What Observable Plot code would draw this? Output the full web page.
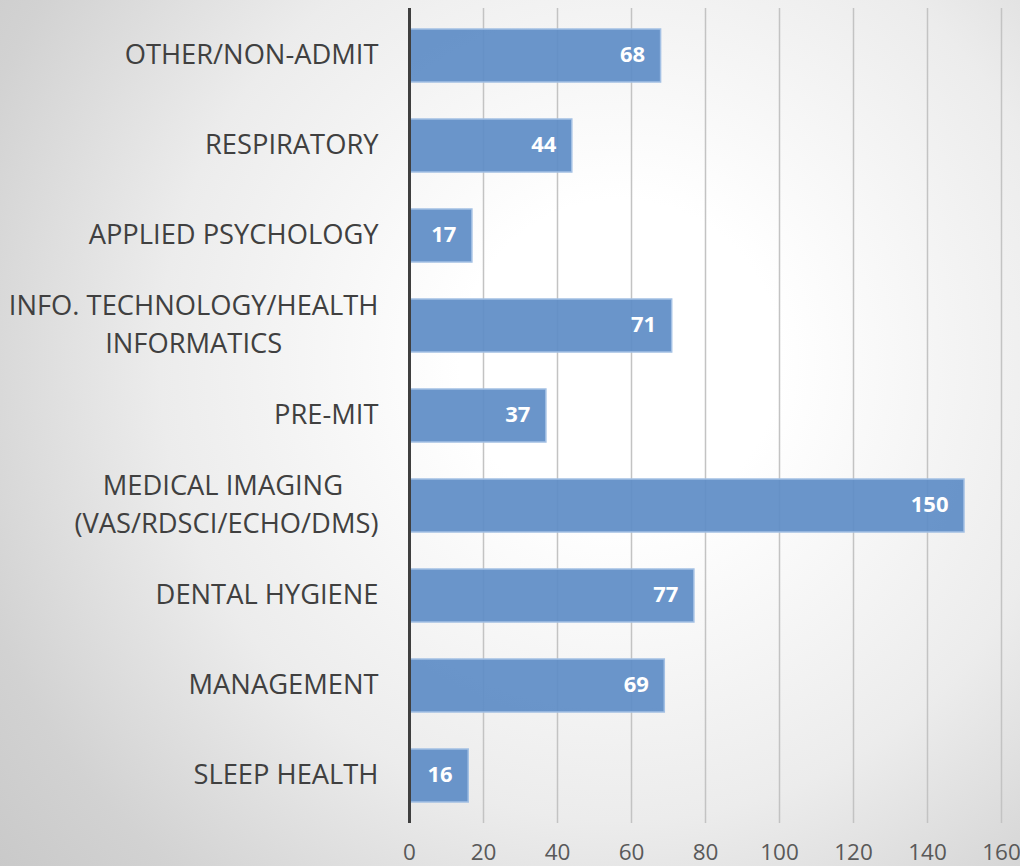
<!DOCTYPE html>
<html>
<head>
<meta charset="utf-8">
<script src="https://cdn.jsdelivr.net/npm/d3@7"></script>
<script src="https://cdn.jsdelivr.net/npm/@observablehq/plot@0.6"></script>
<style>
  html, body { margin: 0; padding: 0; }
  #chart {
    width: 1020px; height: 866px; overflow: hidden;
    background: radial-gradient(circle at 620px 360px, #ffffff 0px, #ffffff 160px, #ececec 460px, #d2d2d2 680px, #c2c2c2 900px);
  }
  #chart svg { background: transparent; display: block; }
</style>
</head>
<body>
<div id="chart"></div>
<script>
const categories = [
  "OTHER/NON-ADMIT",
  "RESPIRATORY",
  "APPLIED PSYCHOLOGY",
  "INFO. TECHNOLOGY/HEALTH\nINFORMATICS",
  "PRE-MIT",
  "MEDICAL IMAGING \n(VAS/RDSCI/ECHO/DMS)",
  "DENTAL HYGIENE",
  "MANAGEMENT",
  "SLEEP HEALTH"
];
const values = [68, 44, 17, 71, 37, 150, 77, 69, 16];
const xTicks = [0, 20, 40, 60, 80, 100, 120, 140, 160];

const data = categories.map((c, i) => ({category: c, value: values[i]}));

const chart = Plot.plot({
  width: 1020,
  height: 866,
  marginLeft: 409,
  marginRight: 19,
  marginTop: 8,
  marginBottom: 43,
  style: {background: "transparent", fontFamily: "Open Sans"},
  x: {domain: [0, 160], ticks: xTicks, label: null},
  y: {domain: categories, paddingInner: 0.415, paddingOuter: 0.2075, axis: null, label: null},
  marks: [
    Plot.ruleX(xTicks.filter(d => d > 0), {stroke: "#c3c3c3", strokeWidth: 1.5}),
    Plot.barX(data, {x: "value", y: "category", fill: "#5f8dc6", fillOpacity: 0.93, stroke: "#a3c0e4", strokeWidth: 1.5}),
    Plot.ruleX([0], {stroke: "#3f3f3f", strokeWidth: 3}),
    Plot.axisX({ticks: xTicks, tickSize: 0, tickPadding: 21, fontSize: 22.5, color: "#595959", label: null, tickFormat: d => String(d)}),
    Plot.text(data, {x: 0, y: "category", text: "category", dx: -31, dy: -4, textAnchor: "end", lineAnchor: "middle", lineHeight: 1.38, fontSize: 27.3, fill: "#404040", className: "cat-label"}),
    Plot.text(data, {x: "value", y: "category", text: d => String(d.value), dx: -16, dy: -1, textAnchor: "end", fill: "white", fontWeight: "bold", fontSize: 22})
  ]
});

document.getElementById("chart").appendChild(chart);

// center the lines of multi-line category labels within their block (right edge kept)
d3.select(chart).selectAll("g.cat-label text").each(function() {
  const tspans = this.querySelectorAll("tspan");
  if (tspans.length > 1) {
    const w = this.getBBox().width;
    this.setAttribute("text-anchor", "middle");
    tspans.forEach(t => t.setAttribute("x", String(-w / 2)));
  }
});
</script>
</body>
</html>
